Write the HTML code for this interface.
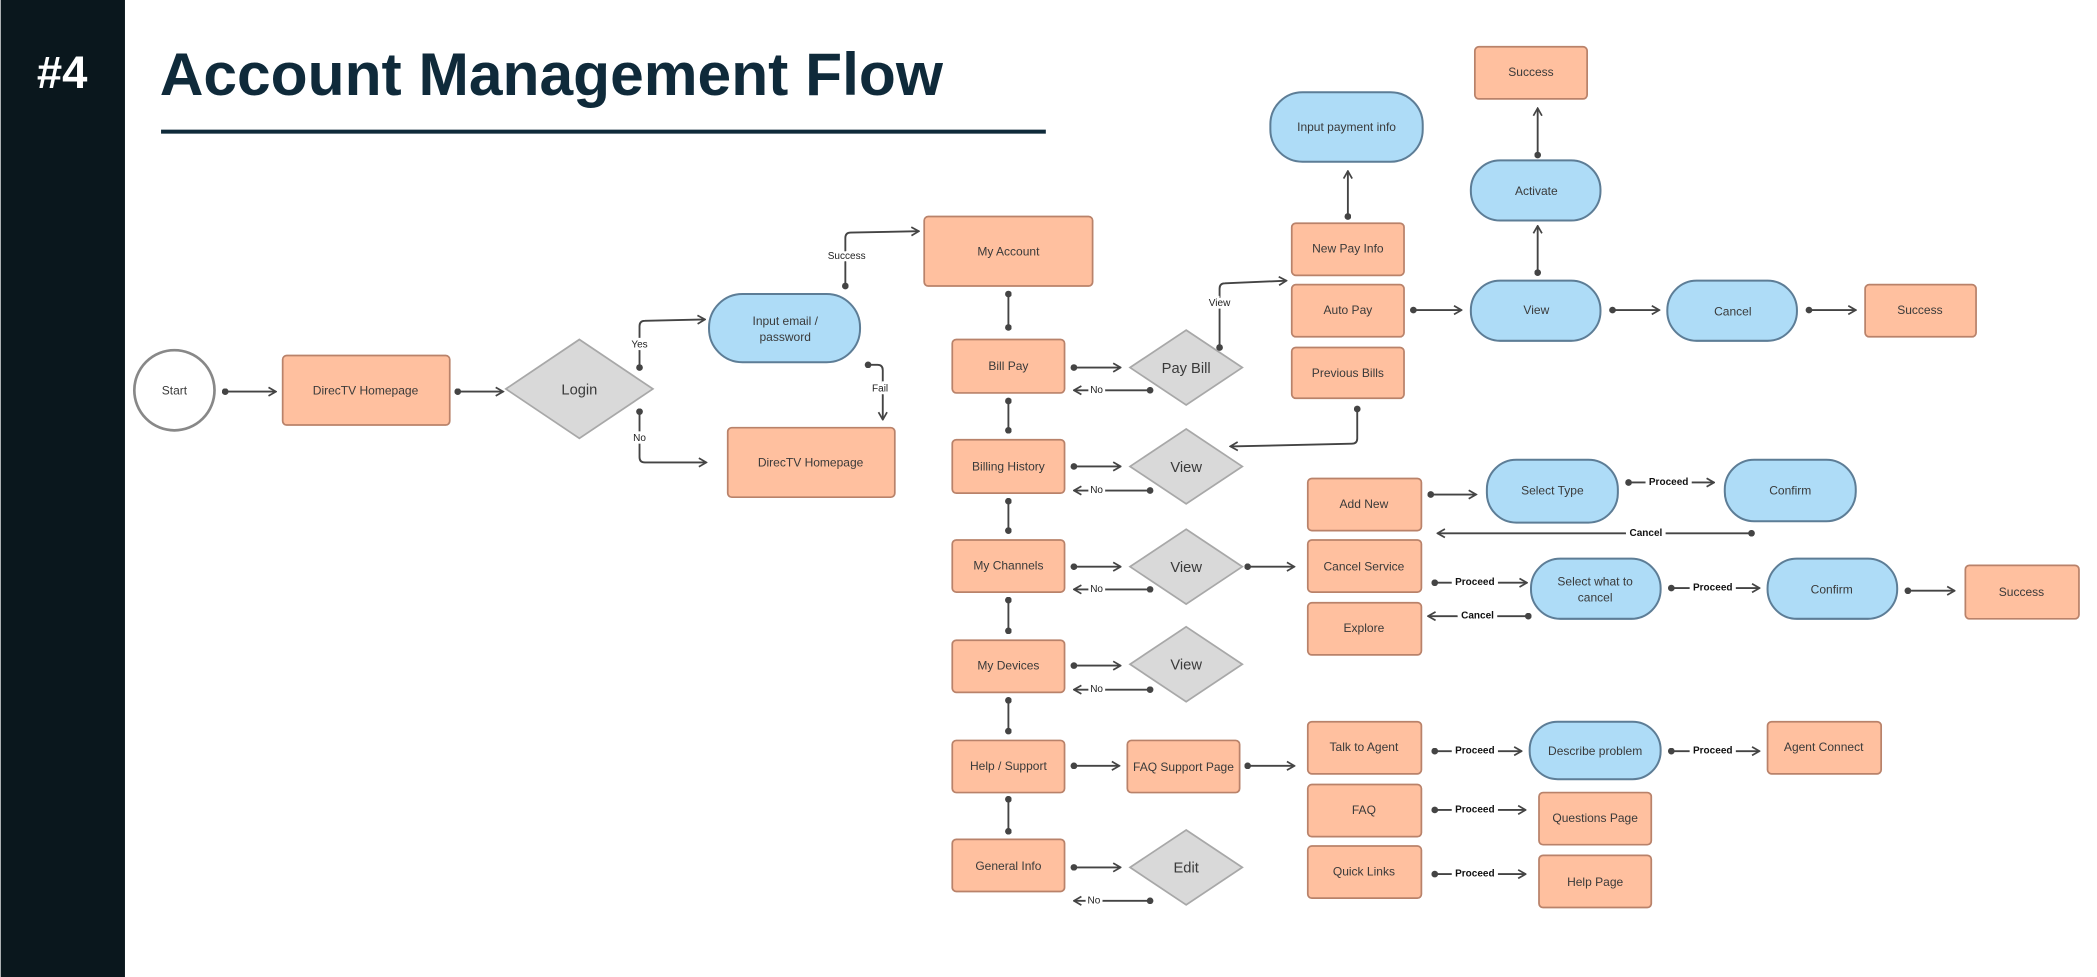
<!DOCTYPE html>
<html><head><meta charset="utf-8"><style>
html,body{margin:0;padding:0;background:#fff}
svg{display:block}
text{font-family:"Liberation Sans",sans-serif}
.b{fill:#ffc09f;stroke:#b9826a;stroke-width:1.3}
.p{fill:#aedcf7;stroke:#5d7d96;stroke-width:1.5}
.d{fill:#d9d9d9;stroke:#a8a8a8;stroke-width:1.3}
.t{font-size:9px;fill:#3a3a3a;text-anchor:middle;dominant-baseline:central}
.dt{font-size:11px;fill:#3a3a3a;text-anchor:middle;dominant-baseline:central}
.c{fill:none;stroke:#444;stroke-width:1.4;marker-start:url(#dot);marker-end:url(#arr)}
.v{fill:none;stroke:#444;stroke-width:1.4;marker-start:url(#dot);marker-end:url(#dot)}
.l{font-size:7.5px;fill:#222;text-anchor:middle;dominant-baseline:central}
.lb{font-size:7.5px;fill:#111;font-weight:bold;text-anchor:middle;dominant-baseline:central}
</style></head><body>
<svg width="2097" height="977" viewBox="0 0 1568 731" xmlns="http://www.w3.org/2000/svg">
<defs>
<marker id="arr" viewBox="0 0 10 10" refX="9" refY="5" markerWidth="8" markerHeight="8" markerUnits="userSpaceOnUse" orient="auto"><path d="M2,1 L9,5 L2,9" fill="none" stroke="#444" stroke-width="1.6"/></marker>
<marker id="dot" viewBox="0 0 10 10" refX="5" refY="5" markerWidth="5" markerHeight="5" markerUnits="userSpaceOnUse" orient="auto"><circle cx="5" cy="5" r="5" fill="#444"/></marker>
</defs>
<rect x="0" y="0" width="1568" height="731" fill="#fff"/>
<rect x="0" y="0" width="93" height="731" fill="#0a171d"/>
<text x="46" y="66" font-size="34" font-weight="bold" fill="#fff" text-anchor="middle">#4</text>
<text x="119" y="71" font-size="45" font-weight="bold" fill="#0f2a3a" textLength="586" lengthAdjust="spacingAndGlyphs">Account Management Flow</text>
<rect x="120" y="97" width="662" height="3" fill="#0f2a3a"/>

<circle cx="130" cy="292" r="30" fill="#fff" stroke="#888" stroke-width="2"/>
<text class="t" x="130" y="292">Start</text>
<rect class="b" x="211" y="266" width="125" height="52" rx="3"/><text class="t" x="273" y="292">DirecTV Homepage</text>
<polygon class="d" points="433,254 488,291 433,328 378,291"/><text class="dt" x="433" y="292">Login</text>
<rect class="p" x="530" y="220" width="113" height="51" rx="25"/><text class="t" x="587" y="240">Input email /</text><text class="t" x="587" y="252">password</text>
<rect class="b" x="544" y="320" width="125" height="52" rx="3"/><text class="t" x="606" y="346">DirecTV Homepage</text>
<rect class="b" x="691" y="162" width="126" height="52" rx="3"/><text class="t" x="754" y="188">My Account</text>

<rect class="b" x="712" y="254" width="84" height="40" rx="3"/><text class="t" x="754" y="274">Bill Pay</text>
<rect class="b" x="712" y="329" width="84" height="40" rx="3"/><text class="t" x="754" y="349">Billing History</text>
<rect class="b" x="712" y="404" width="84" height="39" rx="3"/><text class="t" x="754" y="423">My Channels</text>
<rect class="b" x="712" y="479" width="84" height="39" rx="3"/><text class="t" x="754" y="498">My Devices</text>
<rect class="b" x="712" y="554" width="84" height="39" rx="3"/><text class="t" x="754" y="573">Help / Support</text>
<rect class="b" x="712" y="628" width="84" height="39" rx="3"/><text class="t" x="754" y="648">General Info</text>

<polygon class="d" points="887,247 929,275 887,303 845,275"/><text class="dt" x="887" y="276">Pay Bill</text>
<polygon class="d" points="887,321 929,349 887,377 845,349"/><text class="dt" x="887" y="350">View</text>
<polygon class="d" points="887,396 929,424 887,452 845,424"/><text class="dt" x="887" y="425">View</text>
<polygon class="d" points="887,469 929,497 887,525 845,497"/><text class="dt" x="887" y="498">View</text>
<polygon class="d" points="887,621 929,649 887,677 845,649"/><text class="dt" x="887" y="650">Edit</text>
<rect class="b" x="843" y="554" width="84" height="39" rx="3"/><text class="t" x="885" y="574" font-size="8.5">FAQ Support Page</text>

<rect class="b" x="966" y="167" width="84" height="39" rx="3"/><text class="t" x="1008" y="186">New Pay Info</text>
<rect class="b" x="966" y="213" width="84" height="39" rx="3"/><text class="t" x="1008" y="232">Auto Pay</text>
<rect class="b" x="966" y="260" width="84" height="38" rx="3"/><text class="t" x="1008" y="279">Previous Bills</text>
<rect class="p" x="950" y="69" width="114" height="52" rx="24"/><text class="t" x="1007" y="95">Input payment info</text>
<rect class="b" x="1103" y="35" width="84" height="39" rx="3"/><text class="t" x="1145" y="54">Success</text>
<rect class="p" x="1100" y="120" width="97" height="45" rx="22"/><text class="t" x="1149" y="143">Activate</text>
<rect class="p" x="1100" y="210" width="97" height="45" rx="22"/><text class="t" x="1149" y="232">View</text>
<rect class="p" x="1247" y="210" width="97" height="45" rx="22"/><text class="t" x="1296" y="233">Cancel</text>
<rect class="b" x="1395" y="213" width="83" height="39" rx="3"/><text class="t" x="1436" y="232">Success</text>

<rect class="b" x="978" y="358" width="85" height="39" rx="3"/><text class="t" x="1020" y="377">Add New</text>
<rect class="b" x="978" y="404" width="85" height="39" rx="3"/><text class="t" x="1020" y="424">Cancel Service</text>
<rect class="b" x="978" y="451" width="85" height="39" rx="3"/><text class="t" x="1020" y="470">Explore</text>
<rect class="p" x="1112" y="344" width="98" height="47" rx="22"/><text class="t" x="1161" y="367">Select Type</text>
<rect class="p" x="1290" y="344" width="98" height="46" rx="22"/><text class="t" x="1339" y="367">Confirm</text>
<rect class="p" x="1145" y="418" width="97" height="45" rx="22"/><text class="t" x="1193" y="435">Select what to</text><text class="t" x="1193" y="447">cancel</text>
<rect class="p" x="1322" y="418" width="97" height="45" rx="22"/><text class="t" x="1370" y="441">Confirm</text>
<rect class="b" x="1470" y="423" width="85" height="40" rx="3"/><text class="t" x="1512" y="443">Success</text>

<rect class="b" x="978" y="540" width="85" height="39" rx="3"/><text class="t" x="1020" y="559">Talk to Agent</text>
<rect class="b" x="978" y="587" width="85" height="39" rx="3"/><text class="t" x="1020" y="606">FAQ</text>
<rect class="b" x="978" y="633" width="85" height="39" rx="3"/><text class="t" x="1020" y="652">Quick Links</text>
<rect class="p" x="1144" y="540" width="98" height="43" rx="21"/><text class="t" x="1193" y="562">Describe problem</text>
<rect class="b" x="1322" y="540" width="85" height="39" rx="3"/><text class="t" x="1364" y="559">Agent Connect</text>
<rect class="b" x="1151" y="593" width="84" height="39" rx="3"/><text class="t" x="1193" y="612">Questions Page</text>
<rect class="b" x="1151" y="640" width="84" height="39" rx="3"/><text class="t" x="1193" y="660">Help Page</text>

<path class="c" d="M168,293 H206"/>
<path class="c" d="M342,293 H376"/>
<path class="c" d="M478,275 V244 Q478,240 482,240 L527,239"/>
<path class="c" d="M478,308 V342 Q478,346 482,346 L528,346"/>
<path class="c" d="M632,214 V178 Q632,174 636,174 L687,173"/>
<path class="c" d="M649,273 H656 Q660,273 660,277 V314"/>
<text class="l" x="478" y="258" style="paint-order:stroke" stroke="#fff" stroke-width="4">Yes</text>
<text class="l" x="478" y="328" style="paint-order:stroke" stroke="#fff" stroke-width="4">No</text>
<text class="l" x="633" y="192" style="paint-order:stroke" stroke="#fff" stroke-width="4">Success</text>
<text class="l" x="658" y="291" style="paint-order:stroke" stroke="#fff" stroke-width="4">Fail</text>

<path class="v" d="M754,220 V245"/>
<path class="v" d="M754,300 V322"/>
<path class="v" d="M754,375 V397"/>
<path class="v" d="M754,449 V472"/>
<path class="v" d="M754,524 V547"/>
<path class="v" d="M754,598 V622"/>

<path class="c" d="M803,275 H838"/><path class="c" d="M860,292 H803"/>
<path class="c" d="M803,349 H838"/><path class="c" d="M860,367 H803"/>
<path class="c" d="M803,424 H838"/><path class="c" d="M860,441 H803"/>
<path class="c" d="M803,498 H838"/><path class="c" d="M860,516 H803"/>
<path class="c" d="M803,573 H837"/>
<path class="c" d="M803,649 H838"/><path class="c" d="M860,674 H803"/>
<g style="paint-order:stroke" stroke="#fff" stroke-width="4">
<text class="l" x="820" y="292">No</text><text class="l" x="820" y="367">No</text><text class="l" x="820" y="441">No</text><text class="l" x="820" y="516">No</text><text class="l" x="818" y="674">No</text>
</g>

<path class="c" d="M912,260 V216 Q912,212 916,212 L962,210"/>
<text class="l" x="912" y="227" style="paint-order:stroke" stroke="#fff" stroke-width="4">View</text>
<path class="c" d="M1015,306 V328 Q1015,332 1011,332 L920,334"/>
<path class="c" d="M1008,162 V128"/>
<path class="c" d="M1057,232 H1093"/>
<path class="c" d="M1150,204 V169"/>
<path class="c" d="M1150,116 V81"/>
<path class="c" d="M1206,232 H1241"/>
<path class="c" d="M1353,232 H1388"/>

<path class="c" d="M933,424 H968"/>
<path class="c" d="M1070,370 H1104"/>
<path class="c" d="M1218,361 H1282"/>
<path class="c" d="M1310,399 H1075"/>
<path class="c" d="M1073,436 H1142"/>
<path class="c" d="M1250,440 H1316"/>
<path class="c" d="M1427,442 H1462"/>
<path class="c" d="M1143,461 H1068"/>
<path class="c" d="M933,573 H968"/>
<path class="c" d="M1073,562 H1138"/>
<path class="c" d="M1250,562 H1316"/>
<path class="c" d="M1073,606 H1141"/>
<path class="c" d="M1073,654 H1141"/>
<g style="paint-order:stroke" stroke="#fff" stroke-width="6">
<text class="lb" x="1248" y="361">Proceed</text>
<text class="lb" x="1231" y="399">Cancel</text>
<text class="lb" x="1103" y="436">Proceed</text>
<text class="lb" x="1281" y="440">Proceed</text>
<text class="lb" x="1105" y="461">Cancel</text>
<text class="lb" x="1103" y="562">Proceed</text>
<text class="lb" x="1281" y="562">Proceed</text>
<text class="lb" x="1103" y="606">Proceed</text>
<text class="lb" x="1103" y="654">Proceed</text>
</g>
</svg>
</body></html>
